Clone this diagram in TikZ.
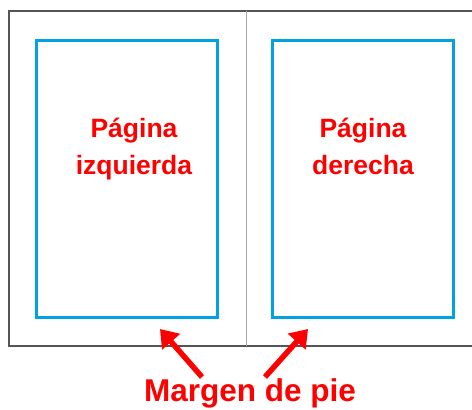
\documentclass[tikz,border=0pt]{standalone}
\usepackage{fontspec}
\setmainfont{Liberation Sans}
\usetikzlibrary{arrows.meta,positioning}
\definecolor{pagblue}{RGB}{0,162,226}
\definecolor{sheetgray}{RGB}{85,85,85}
\tikzstyle{pagebox} = [draw=pagblue,line width=3pt,minimum width=181pt,minimum height=277pt,inner sep=0pt]
\tikzstyle{pagetext} = [text=red,font=\bfseries\fontsize{26.5}{37}\selectfont,align=center,anchor=north,inner sep=0pt]
\tikzstyle{pointer} = [red,line width=5.5pt,-{Triangle[length=17pt,width=23pt]}]

\begin{document}
\begin{tikzpicture}[x=1pt,y=-1pt]
		\useasboundingbox (0,0) rectangle (472,410);
		
		% the open book
		\draw[sheetgray,line width=1.8pt] (9,11) rectangle (490,346);
		\draw[gray!70,line width=1pt] (246,11) -- (246,346);
		
		% the two pages
		\node[pagebox] (left) at (126.5,178.5) {};
		\node[pagebox] (right) at (362.5,178.5) {};
		\node[pagetext] (lefttext) at (134,118) {Página\\izquierda};
		\node[pagetext] (righttext) at (363,118) {Página\\derecha};
		
		% footer label and arrows
		\node[text=red,font=\bfseries\fontsize{31.5}{36}\selectfont] (foot) at (250,393) {Margen de pie};
		\coordinate (lefttail) at (202,377);
		\coordinate (righttail) at (265,377);
		\coordinate (lefthead) at (160,329);
		\coordinate (righthead) at (308,329);
		\draw[pointer] (lefttail) -- (lefthead);
		\draw[pointer] (righttail) -- (righthead);
		
\end{tikzpicture}
\end{document}
